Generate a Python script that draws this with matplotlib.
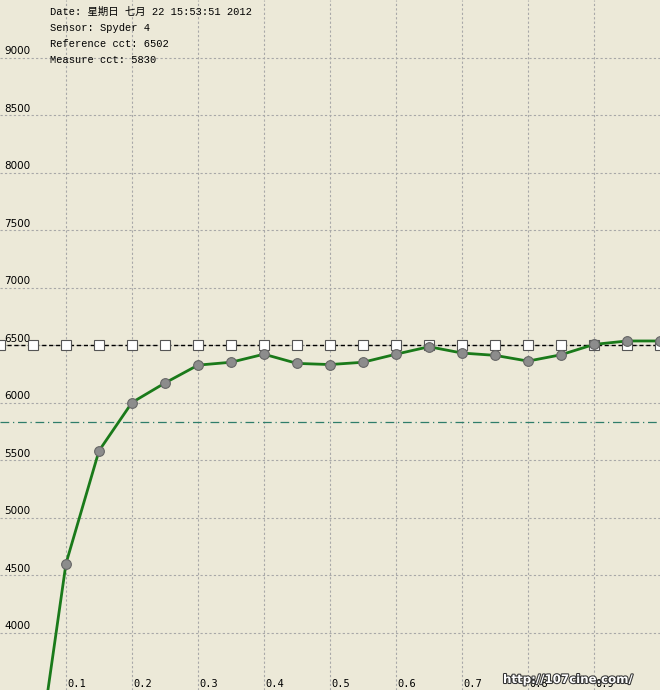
import numpy as np
import matplotlib
matplotlib.use('Agg')
import matplotlib.pyplot as plt
import matplotlib.patheffects as pe

# data
ref_x = [0.0, 0.05, 0.1, 0.15, 0.2, 0.25, 0.3, 0.35, 0.4, 0.45, 0.5,
         0.55, 0.6, 0.65, 0.7, 0.75, 0.8, 0.85, 0.9, 0.95, 1.0]
ref_cct = 6502
measure_cct = 5830
meas_x = [0.05, 0.1, 0.15, 0.2, 0.25, 0.3, 0.35, 0.4, 0.45, 0.5,
          0.55, 0.6, 0.65, 0.7, 0.75, 0.8, 0.85, 0.9, 0.95, 1.0]
meas_y = [2590, 4600, 5580, 6000, 6170, 6325, 6350, 6420, 6340, 6330,
          6350, 6420, 6485, 6430, 6410, 6360, 6415, 6505, 6535, 6535]
y_ticks = [4000, 4500, 5000, 5500, 6000, 6500, 7000, 7500, 8000, 8500, 9000]
x_ticks = [0.1, 0.2, 0.3, 0.4, 0.5, 0.6, 0.7, 0.8, 0.9]
header = ["Date: 星期日 七月 22 15:53:51 2012",
          "Sensor: Spyder 4",
          "Reference cct: 6502",
          "Measure cct: 5830"]

bg = '#ECE9D8'
fig = plt.figure(figsize=(6.6, 6.9), dpi=100, facecolor=bg)
ax = fig.add_axes([0, 0, 1, 1])
ax.set_facecolor(bg)
ax.set_xlim(0, 1.0)
ax.set_ylim(3500, 9500)
for s in ax.spines.values():
    s.set_visible(False)
ax.set_xticks([])
ax.set_yticks([])

# grid
for v in y_ticks:
    ax.axhline(v, color='#a8a8a8', lw=0.8, ls=(0, (2, 2)), zorder=1)
    ax.annotate(str(v), (0, v), xytext=(3, 1), textcoords='offset points',
                fontsize=7.5, va='bottom', ha='left', color='black',
                family='DejaVu Sans')
for v in x_ticks:
    ax.axvline(v, color='#a8a8a8', lw=0.8, ls=(0, (2, 2)), zorder=1)
    ax.annotate(f"{v:.1f}", (v, 3500), xytext=(1, 1), textcoords='offset points',
                fontsize=7.5, va='bottom', ha='left', color='black',
                family='DejaVu Sans Mono')

# measure line
ax.axhline(measure_cct, color='#2e7d6a', lw=0.9, ls=(0, (7, 3, 1, 3)), zorder=2)

# reference line
ax.plot(ref_x, [ref_cct] * len(ref_x), color='black', lw=1, ls=(0, (3, 2)),
        marker='s', ms=7, mfc='white', mec='#555555', mew=0.8, zorder=4,
        clip_on=False)

# measured curve
ax.plot(meas_x, meas_y, color='#1a7a1a', lw=2, marker='o', ms=7,
        mfc='#8c8c8c', mec='#666666', mew=0.8, zorder=5)

# header text
for i, t in enumerate(header):
    ax.text(50 / 660, 1 - (12 + 16 * i) / 690, t, transform=ax.transAxes,
            fontsize=7.5, va='center', ha='left',
            family=['Liberation Mono', 'Noto Sans CJK SC'], zorder=6)

# watermark
ax.text(503 / 660, 4 / 690, "http://107cine.com/", transform=ax.transAxes,
        fontsize=8.5, va='bottom', ha='left', color='white', fontweight='bold',
        path_effects=[pe.withStroke(linewidth=1.5, foreground='#333333')], zorder=7)

fig.savefig('out.png', dpi=100, facecolor=bg)
